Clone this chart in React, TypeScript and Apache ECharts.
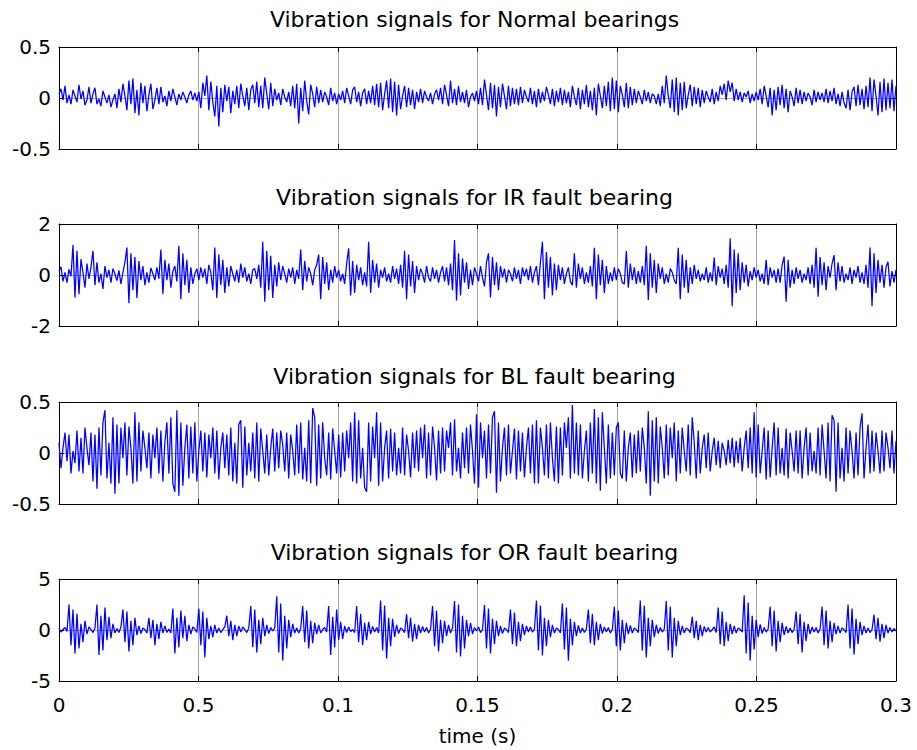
import { useEffect, useRef } from 'react';
import * as echarts from 'echarts';

// Panel headings, top to bottom
const panelTitles = [
  'Vibration signals for Normal bearings',
  'Vibration signals for IR fault bearing',
  'Vibration signals for BL fault bearing',
  'Vibration signals for OR fault bearing',
];

// Shared time axis (seconds)
const timeSpan = 0.3;
const timeStep = 0.05;
const xTickLabels = ['0', '0.5', '0.1', '0.15', '0.2', '0.25', '0.3'];
const xAxisTitle = 'time (s)';

// Amplitude limits and tick labels for each panel
const yLimits = [0.5, 2, 0.5, 5];
const yTickLabels = [
  ['-0.5', '0', '0.5'],
  ['-2', '0', '2'],
  ['-0.5', '0', '0.5'],
  ['-5', '0', '5'],
];

// Normal bearing acceleration signal
const normalSignal = [
  .04, .09, -.02, .12, -.05, .03, -.06, .08, .02, -.04,
  .13, -.01, .07, -.07, -.02, .11, -.05, .04, .10, -.06,
  -.01, -.08, .07, .01, -.05, .03, -.09, -.02, .04, -.10,
  .09, -.04, .14, .02, -.12, .17, -.06, .19, -.15, .08,
  -.17, .15, -.05, .12, -.13, .03, .14, -.11, -.02, .10,
  -.06, .11, -.04, .02, -.08, .07, -.03, .09, .01, -.07,
  .04, -.02, .06, .01, -.05, .03, .07, -.02, .05, -.03,
  .06, -.10, .15, .02, .22, -.12, .16, -.04, -.18, .12,
  -.28, .10, -.14, .13, -.03, .11, -.15, .07, -.06, .12,
  -.10, .14, .02, -.08, .10, -.12, .08, .13, -.05, .16,
  -.09, .12, -.10, .20, .04, -.11, .15, -.08, .09, -.02,
  .05, -.07, .09, .01, -.04, .06, -.08, .12, -.10, .14,
  -.25, .10, -.13, .17, -.03, -.16, .13, .04, -.09, .11,
  -.05, .08, -.04, .06, .01, -.07, .10, -.03, .05, -.06,
  .04, -.02, .07, -.05, .10, .02, -.06, .08, .11, -.04,
  .06, -.08, .05, .09, -.06, .07, -.05, .12, -.07, .14,
  -.09, .15, -.12, .04, .17, -.10, .19, -.14, .16, -.17,
  .13, -.11, .02, .12, -.09, .10, -.07, .08, -.11, .06,
  -.04, .09, -.05, .07, .01, -.03, .05, -.06, .04, .08,
  -.02, .10, -.06, .13, .03, -.08, .17, -.05, .09, -.07,
  .12, -.04, .06, -.05, .08, -.09, .01, .05, -.03, .07,
  -.06, .10, -.07, .18, .03, -.12, .15, -.10, .13, -.18,
  .11, -.09, .14, .02, -.11, .12, -.08, .10, -.06, .09,
  -.07, .11, -.05, .08, .01, -.04, .10, -.06, .07, -.09,
  .09, -.05, .06, -.03, .11, .03, -.06, .09, -.08, .07,
  -.04, .10, -.07, .08, -.05, .06, -.09, .12, .01, -.07,
  .10, -.11, .08, -.06, .13, -.09, .07, -.12, .10, -.17,
  .14, .02, -.10, .12, -.08, .16, -.13, .20, -.11, .17,
  -.14, .12, .03, -.09, .15, -.10, .11, -.07, .09, -.05,
  .07, .01, -.06, .08, -.03, .06, -.05, .04, .02, -.06,
  .04, -.08, .12, -.05, .22, .02, -.10, .18, -.14, .20,
  -.17, .15, -.12, .16, -.10, .03, .13, -.08, .11, -.06,
  .10, -.09, .08, -.05, .07, .01, -.04, .09, -.06, .06,
  -.03, .12, .03, .14, -.02, .17, .06, .15, -.03, .09,
  -.02, .06, -.04, .05, .01, .07, -.05, .04, -.03, .06,
  -.02, .09, -.06, .12, .02, -.09, .10, -.17, .08, -.12,
  .11, -.07, .13, -.10, .09, -.14, .07, .01, -.08, .10,
  -.05, .08, -.06, .06, -.03, .05, .01, -.07, .08, -.04,
  .06, -.02, .05, -.04, .09, -.05, .07, -.03, .10, -.06,
  .04, -.08, .06, -.05, -.10, .08, -.12, .06, .11, -.08,
  .13, -.07, .09, -.11, .12, -.09, .20, -.13, .18, .02,
  -.17, .16, -.14, .19, -.12, .15, -.10, .18, -.13, .12,
];

// Inner-race fault signal
const innerRaceSignal = [
  .15, .32, -.25, .1, -.3, .22, -.05, 1.18, -.88, .95,
  -.75, .62, .1, -.5, .45, -.15, .3, .95, -.4, .5,
  -.3, .05, -.55, .35, -.1, .2, -.3, .25, .05, -.22,
  .18, -.35, .1, .5, 1.08, -1.11, .85, -.6, .7, -.9,
  .55, -.2, .35, -.4, .1, -.3, .28, .05, -.2, .3,
  -.15, 1.0, -.75, .6, -.2, .45, -.5, .15, .35, -.25,
  1.15, -.95, .85, -.4, .6, -.7, .3, -.35, .05, .25,
  -.2, .3, -.1, .25, -.35, .4, .1, -.6, 1.08, -.9,
  .8, -.4, .6, -.7, .3, -.45, .35, .05, -.25, .2,
  -.3, .45, -.1, .3, -.25, .05, -.35, .2, .25, -.15,
  .4, -.5, 1.3, -1.05, .95, -.6, .75, -.9, .4, -.45,
  .5, -.2, .35, .05, -.3, .25, -.1, .3, -.35, .2,
  -.15, 1.0, -.6, .55, -.25, .3, .05, -.4, .2, .4,
  .8, -.95, .7, -.35, .5, -.6, .2, -.3, .35, -.1,
  .2, -.25, .05, -.35, .45, 1.05, -.8, .55, -.7, .4,
  -.2, .3, -.4, .1, -.45, 1.3, -.7, .6, -.3, .45,
  -.5, .2, -.1, .3, -.25, .05, -.3, .35, -.15, .25,
  -.35, .4, -.5, .95, -.95, .8, -.45, .55, -.7, .35,
  -.2, .25, .05, -.3, .35, -.1, -.25, .3, -.15, .2,
  -.3, .1, .35, -.25, .3, -.4, .45, -.6, 1.37, -1.0,
  .85, -.8, .65, -.3, .5, -.55, .2, -.4, .3, .05,
  -.25, .35, -.1, -.45, .5, .85, -.88, .7, -.4, .5,
  -.6, .35, -.1, .25, -.3, .2, .05, -.25, .3, -.15,
  .2, -.35, .3, -.05, .25, -.2, .35, -.3, .1, .35,
  -.4, .5, 1.3, -.95, .9, -.5, .7, -.8, .45, -.6,
  .4, -.2, .3, -.35, .05, .3, -.25, -.4, .85, -.5,
  .45, -.15, .3, -.35, .1, -.3, .35, -.45, 1.07, -.95,
  .8, -.4, .6, -.7, .35, -.35, .1, -.25, .3, -.2,
  .25, .05, -.3, -.35, .94, -.5, .45, -.2, .3, -.35,
  .15, -.3, .35, -.4, 1.15, -.98, .85, -.5, .6, -.7,
  .45, -.15, .3, -.35, .05, -.3, .25, .1, -.2, -.35,
  1.07, -.95, .8, -.5, .6, -.7, .3, -.35, .4, -.15,
  .2, -.25, .05, -.2, .3, -.3, .1, -.25, .68, -.4,
  .35, -.1, .25, -.35, .4, -.5, 1.44, -1.22, 1.0, -.7,
  .85, -.6, .5, -.3, .4, -.45, .15, -.2, .3, -.1,
  .2, -.25, .05, -.35, .6, -.4, .3, -.1, .2, -.3,
  .25, -.3, .4, .72, -1.05, .6, -.5, .2, -.35, .3,
  -.15, .2, -.3, .05, -.2, .3, -.35, .4, -.5, 1.07,
  -.85, .7, -.4, .5, -.6, .35, -.1, .45, .78, -.6,
  .5, -.25, .35, -.3, .05, -.2, .3, -.35, .2, -.1,
  .35, -.3, .1, -.35, .4, -.5, 1.08, -1.22, .85, -.7,
  .6, -.3, .4, -.5, .3, .52, -.45, .15, -.3, .2,
];

// Ball fault signal
const ballSignal = [
  .1, -.15, .05, .2, -.08, .18, -.2, .02, -.1, .22,
  -.18, .15, -.2, .25, .05, -.12, .2, -.28, .18, -.35,
  .25, -.22, .3, .42, -.25, .1, -.3, .35, -.4, .28,
  -.3, .25, -.05, .3, -.22, .26, .05, -.3, .4, -.28,
  .3, -.18, .22, .05, -.15, .2, -.25, .18, -.05, .25,
  -.2, .22, -.28, .1, .3, -.2, .35, -.3, -.38, .42,
  -.42, .3, -.32, .05, .28, -.25, .26, -.2, .3, -.28,
  .02, .22, -.18, .2, -.24, .18, -.05, .25, -.2, .22,
  -.26, .05, .2, -.15, .18, -.22, .25, -.28, .1, -.3,
  .28, .32, -.34, .26, -.22, .1, -.18, .2, -.25, .3,
  -.28, .24, .02, -.2, .18, -.22, .05, .24, -.18, .2,
  -.15, .22, .08, -.18, .2, -.25, .18, .02, -.22, .28,
  -.2, .3, -.26, .05, -.28, .32, -.3, .44, .35, -.32,
  .28, -.25, .3, -.05, -.22, .2, -.26, .24, .02, -.2,
  .18, -.24, .2, -.18, .22, -.05, .3, -.28, .4, -.3,
  .32, -.25, .05, -.34, -.38, .3, -.28, .26, -.05, .4,
  -.32, .3, -.28, .05, .22, -.25, .24, -.18, .2, -.22,
  .05, -.2, .25, -.22, .18, .02, -.24, .2, -.15, .22,
  -.18, .25, -.05, .28, -.25, .2, -.22, .26, .05, -.27,
  .22, -.2, .25, -.18, .22, .05, .3, -.22, .33, -.18,
  .05, -.25, .2, -.15, .25, -.2, .28, .02, -.3, .38,
  -.34, .3, -.05, .22, -.25, .28, -.2, .35, .41, -.39,
  .3, -.28, .05, .25, -.22, .28, -.2, .02, .24, -.26,
  .22, -.18, .2, -.24, .05, .25, -.2, .28, -.3, .32,
  -.3, .25, .05, -.22, .28, -.25, .3, -.05, -.28, .26,
  -.3, .25, -.22, .3, .05, .35, -.25, .47, -.2, .3,
  -.22, .28, -.25, .02, .22, -.28, .3, -.2, .43, -.3,
  .35, -.37, .4, .05, -.3, .28, -.25, .2, -.22, .25,
  .3, -.2, -.25, .22, -.28, .05, .2, -.24, .18, -.2,
  .22, -.18, .25, .05, -.3, .41, -.42, .32, -.28, .35,
  -.3, .26, .05, -.25, .28, -.22, .25, -.05, .3, -.28,
  .22, -.2, .25, .02, -.18, .28, -.22, .35, .1, -.25,
  .22, -.2, .05, .18, -.15, .2, -.18, .02, .15, -.12,
  .12, -.15, .1, .02, -.12, .13, -.1, .15, -.14, .12,
  -.1, .15, -.18, .05, .22, -.15, .25, -.2, .4, -.24,
  .28, -.2, .02, .25, -.26, .22, -.24, .05, .3, -.22,
  .25, -.2, .05, -.22, .24, -.25, .2, .02, -.18, .22,
  -.2, .22, -.25, .05, .25, -.22, .2, -.18, .02, -.2,
  .25, -.22, .28, .02, -.25, .3, -.28, .37, .32, -.38,
  .3, -.25, .05, -.28, .25, -.2, .22, .02, -.25, .2,
  -.22, .25, .39, -.25, .05, .28, -.2, .22, -.18, .2,
  .02, -.2, .22, -.18, .2, .05, -.15, .22, -.2, .12,
];

// Outer-race fault signal: an impact burst roughly every 9 ms
const outerRaceSignal = [
  .15, -.2, .05, .25, -.15,
  2.5, -1.5, 2.0, -2.3, 1.6, -1.8, .6, -1.2, .9, -.4,
  .3, .05, -.25, .2,
  2.5, -2.45, 1.4, -2.0, 2.2, -1.0, 1.3, -.8, .6, -.3,
  .15, -.25, .3,
  2.0, -1.2, 1.8, -2.1, .9, -1.5, 1.2, -.5, .4, -.35,
  .2, .05, -.3,
  1.2, -.8, 1.0, -1.5, .6, -.9, .8, -.3, .4, -.25,
  .1, -.3,
  2.1, -2.3, 1.2, -1.7, 1.9, -.8, 1.4, -1.1, .5, -.4,
  .3, .1, -.25,
  2.1, -1.5, 1.8, -2.7, 1.2, -.9, .4, -.7, .5, -.3,
  .2, -.25, .05, .3,
  1.4, -.6, .9, -1.0, .5, -.6, .4, -.2,
  .3, .05, -.25, .2,
  2.35, -1.7, 2.0, -2.2, 1.0, -1.4, 1.2, -.6, .5, -.35,
  .25, -.1, .2,
  3.3, -2.2, 2.6, -3.0, 1.4, -1.8, 1.0, -.7, .6, -.3,
  .2, -.3, .15,
  2.35, -1.2, 1.9, -1.8, .9, -1.3, .7, -.4, .5, -.3,
  .05, .25, -.2,
  2.35, -2.45, 1.3, -1.7, 2.0, -1.0, .8, -.9, .4, -.25,
  .3, -.15, .05, -.25,
  2.35, -1.2, 1.6, -1.5, .7, -1.0, .8, -.4, .35, -.2,
  .25, -.3,
  2.9, -2.0, 2.4, -2.8, 1.2, -1.6, 1.1, -.7, .5, -.35,
  .2, .05, -.25,
  1.55, -.8, 1.2, -1.15, .6, -.9, .5, -.3, .35, -.2,
  .25, -.3, .1,
  2.35, -1.6, 1.9, -2.1, 1.0, -1.3, .9, -.6, .5, -.3,
  .2,
  2.85, -2.2, 2.5, -2.6, 1.4, -1.8, 1.0, -.6, .7, -.4,
  .25, -.1, .3, -.25, .05,
  2.45, -1.8, 2.1, -2.3, 1.1, -1.4, .9, -.6, .4, -.35,
  .2, .05, -.25,
  2.0, -1.4, 1.7, -1.6, .8, -1.1, .6, -.5, .4, -.2,
  .3, -.2, .1,
  2.9, -2.0, 2.4, -2.5, 1.2, -1.6, 1.0, -.7, .5, -.3,
  .2, .05, -.3,
  2.6, -1.9, 2.2, -3.0, 1.1, -1.5, .8, -.6, .45, -.3,
  .2, -.25, .1,
  2.0, -1.3, 1.6, -1.5, .8, -1.0, .6, -.35, .3, -.2,
  .25, -.3, .05,
  2.3, -1.6, 1.9, -2.0, 1.0, -1.3, .7, -.4, .45, -.3,
  .2, .05, -.25,
  2.9, -2.0, 2.4, -2.7, 1.2, -1.6, 1.0, -.7, .5, -.35,
  .25, -.2, .1,
  2.85, -2.0, 2.3, -2.7, 1.2, -1.6, .9, -.5, .4, -.3,
  .2, .05, -.25,
  1.3, -.8, .9, -1.0, .5, -.6, .35, -.2,
  .25, -.2, .05, .3, -.25,
  2.2, -1.4, 1.8, -1.6, .8, -1.1, .6, -.4, .4, -.3,
  .2, .05, -.2,
  3.4, -2.3, 2.7, -3.0, 1.4, -1.9, 1.0, -.7, .55, -.35,
  .25, -.2, .1,
  2.3, -1.6, 1.9, -2.1, .9, -1.2, .7, -.5, .35, -.3,
  .2, -.25, .05,
  1.8, -1.4, 1.6, -2.2, .8, -1.1, .6, -.4, .3, -.2,
  .25, -.3, .1,
  2.3, -1.5, 1.9, -1.8, .9, -1.2, .7, -.4, .4, -.3,
  .2, .05, -.25,
  2.5, -1.8, 2.1, -2.4, 1.1, -1.4, .8, -.5, .4, -.3,
  .2, -.25, .05,
  1.5, -.9, 1.2, -1.15, .6, -.8, .5, -.3,
  .25, -.2, .15, -.1,
];

const signals = [normalSignal, innerRaceSignal, ballSignal, outerRaceSignal];

// Layout of the four stacked panels
const plotLeft = 59;
const plotWidth = 837;
const plotHeight = 102;
const plotTops = [47, 224, 402, 579];
const titleCenters = [19, 197, 376, 552];

const textFont = 'DejaVu Sans';
const frameColor = '#000000';
const guideColor = '#a6a6a6';
const traceColor = '#0000ff';

function buildOption(): echarts.EChartsCoreOption {
  const last = signals.length - 1;
  const grid = plotTops.map((top) => ({
    left: plotLeft,
    top,
    width: plotWidth,
    height: plotHeight,
    containLabel: false,
  }));

  const frameLine = { show: true, onZero: false, lineStyle: { color: frameColor, width: 1 } };
  const innerTick = { show: true, inside: true, length: 5, lineStyle: { color: frameColor, width: 1 } };

  const xAxis: any[] = [];
  const yAxis: any[] = [];
  const series: any[] = [];

  signals.forEach((sig, k) => {
    const isLast = k === last;
    xAxis.push({
      type: 'value',
      gridIndex: k,
      position: 'bottom',
      min: 0,
      max: timeSpan,
      interval: timeStep,
      axisLine: frameLine,
      axisTick: innerTick,
      splitLine: { show: true, lineStyle: { color: guideColor, width: 1 } },
      axisLabel: {
        show: isLast,
        margin: 14,
        color: '#000',
        fontFamily: textFont,
        fontSize: 20,
        showMinLabel: true,
        showMaxLabel: true,
        formatter: (v: number) => xTickLabels[Math.round(v / timeStep)] ?? '',
      },
      name: isLast ? xAxisTitle : '',
      nameLocation: 'middle',
      nameGap: 45,
      nameTextStyle: { color: '#000', fontFamily: textFont, fontSize: 20 },
    });
    xAxis.push({
      type: 'value',
      gridIndex: k,
      position: 'top',
      min: 0,
      max: timeSpan,
      interval: timeStep,
      axisLine: frameLine,
      axisTick: innerTick,
      splitLine: { show: false },
      axisLabel: { show: false },
    });

    const lim = yLimits[k];
    yAxis.push({
      type: 'value',
      gridIndex: k,
      position: 'left',
      min: -lim,
      max: lim,
      interval: lim,
      axisLine: frameLine,
      axisTick: innerTick,
      splitLine: { show: true, lineStyle: { color: guideColor, width: 1 } },
      axisLabel: {
        margin: 8,
        color: '#000',
        fontFamily: textFont,
        fontSize: 20,
        formatter: (v: number) => yTickLabels[k][Math.round(v / lim) + 1] ?? '',
      },
    });
    yAxis.push({
      type: 'value',
      gridIndex: k,
      position: 'right',
      min: -lim,
      max: lim,
      interval: lim,
      axisLine: frameLine,
      axisTick: innerTick,
      splitLine: { show: false },
      axisLabel: { show: false },
    });

    const n = sig.length;
    series.push({
      type: 'line',
      xAxisIndex: 2 * k,
      yAxisIndex: 2 * k,
      data: sig.map((v, i) => [(i * timeSpan) / (n - 1), v]),
      showSymbol: false,
      symbol: 'none',
      silent: true,
      lineStyle: { color: traceColor, width: 1.25 },
      z: 3,
    });
  });

  const graphic = panelTitles.map((text, k) => ({
    type: 'text',
    x: plotLeft + plotWidth / 2 - 3,
    y: titleCenters[k],
    style: {
      text,
      fill: '#000',
      fontFamily: textFont,
      fontSize: 22,
      align: 'center',
      verticalAlign: 'middle',
    },
  }));

  return {
    animation: false,
    backgroundColor: '#ffffff',
    grid,
    xAxis,
    yAxis,
    series,
    graphic,
  };
}

export default function App() {
  const ref = useRef<HTMLDivElement>(null);

  useEffect(() => {
    if (!ref.current) return;
    const chart = echarts.init(ref.current, null, { renderer: 'svg' });
    chart.setOption(buildOption());
    return () => chart.dispose();
  }, []);

  return (
    <div
      ref={ref}
      style={{ position: 'absolute', left: 0, top: 0, width: 917, height: 750, background: '#fff' }}
    />
  );
}
